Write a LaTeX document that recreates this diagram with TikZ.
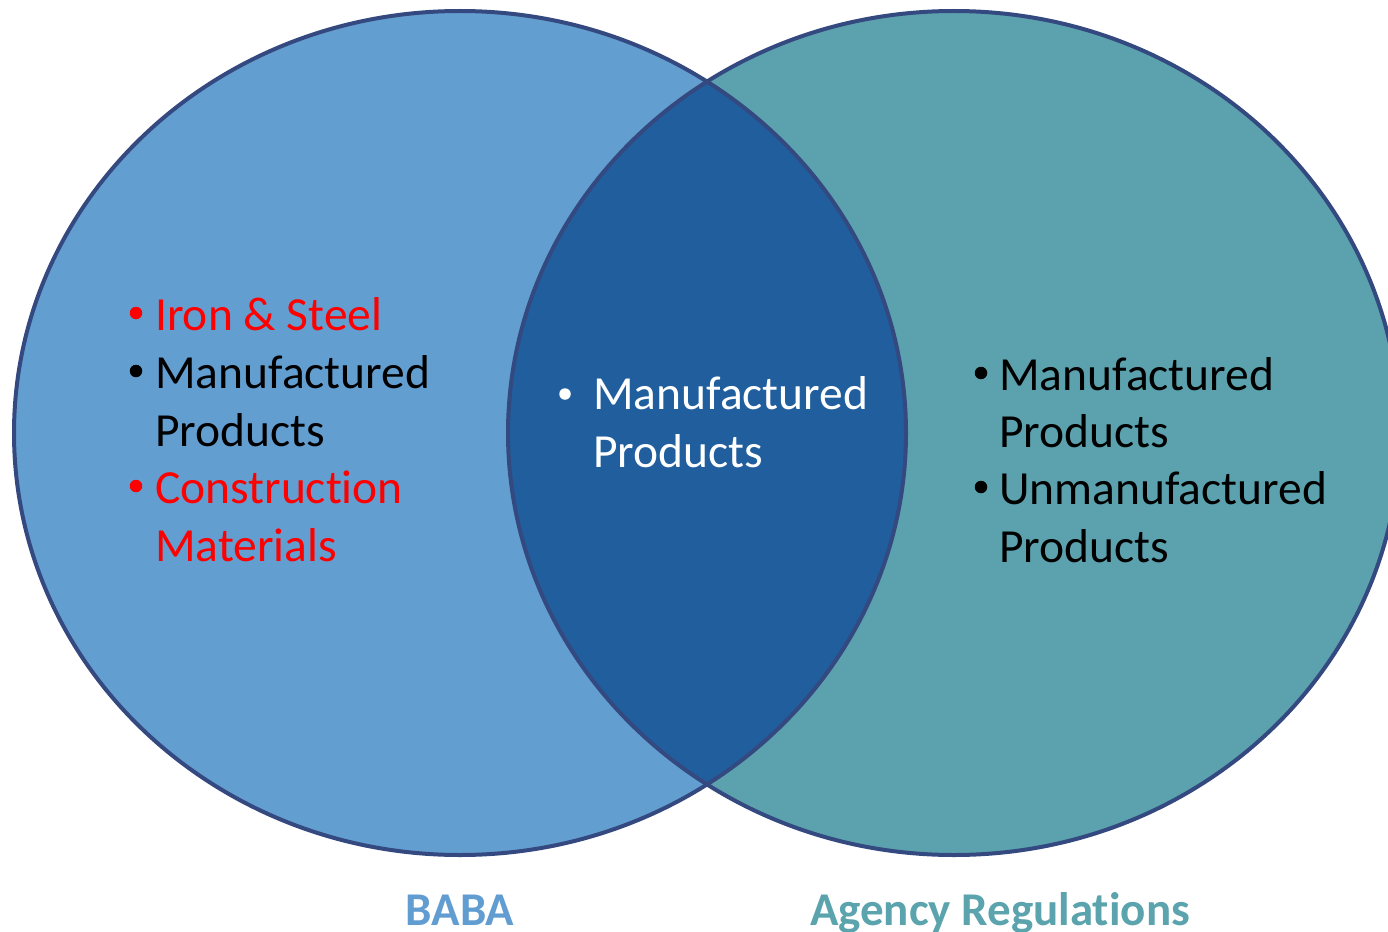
\documentclass[tikz,border=0pt]{standalone}
\usepackage{fontspec}
\setmainfont[Ligatures=NoCommon]{Carlito}
\definecolor{leftfill}{RGB}{99,158,208}
\definecolor{rightfill}{RGB}{91,162,174}
\definecolor{lensfill}{RGB}{32,94,158}
\definecolor{rimcol}{RGB}{52,73,128}
\definecolor{babacol}{RGB}{98,157,210}
\definecolor{agencycol}{RGB}{91,163,173}
\definecolor{redtxt}{RGB}{255,0,0}
\begin{document}
\begin{tikzpicture}[x=1pt,y=-1pt,
  txt/.style={anchor=base west,inner sep=0pt,font=\fontsize{47.5}{56}\selectfont},
  bul/.style={circle,inner sep=0pt,minimum size=12.5pt,fill=black},
  lbl/.style={anchor=base,inner sep=0pt,font=\fontsize{47}{56}\selectfont\bfseries},
  rim/.style={draw=rimcol,line width=4pt}]
\useasboundingbox (0,0) rectangle (1388,931);
\coordinate (cl) at (460,433);
\coordinate (cr) at (954,433);
% fills
\fill[leftfill] (cl) ellipse [x radius=446,y radius=422];
\fill[rightfill] (cr) ellipse [x radius=446,y radius=422];
\begin{scope}
  \clip (cl) ellipse [x radius=446,y radius=422];
  \fill[lensfill] (cr) ellipse [x radius=446,y radius=422];
\end{scope}
% outlines
\draw[rim] (cl) ellipse [x radius=446,y radius=422];
\draw[rim] (cr) ellipse [x radius=446,y radius=422];
% left set
\node[bul,fill=redtxt] (lb1) at (136,313) {};
\node[txt,text=redtxt] (l1) at (155,330) {Iron \& Steel};
\node[bul] (lb2) at (136,371) {};
\node[txt] (l2) at (155,388) {Manufactured};
\node[txt] (l3) at (155,446) {Products};
\node[bul,fill=redtxt] (lb3) at (136,486) {};
\node[txt,text=redtxt] (l4) at (155,503) {Construction};
\node[txt,text=redtxt] (l5) at (155,561) {Materials};
% middle
\node[bul,fill=white,minimum size=11.5pt] (mb1) at (565,394) {};
\node[txt,text=white] (m1) at (593,409) {Manufactured};
\node[txt,text=white] (m2) at (593,467) {Products};
% right set
\node[bul] (rb1) at (981,373) {};
\node[txt] (r1) at (999,390) {Manufactured};
\node[txt] (r2) at (999,447) {Products};
\node[bul] (rb2) at (981,487) {};
\node[txt] (r3) at (999,504) {Unmanufactured};
\node[txt] (r4) at (999,562) {Products};
% labels
\node[lbl,text=babacol] (baba) at (460,925) {BABA};
\node[lbl,text=agencycol] (agency) at (1000,925) {Agency Regulations};
\end{tikzpicture}
\end{document}
